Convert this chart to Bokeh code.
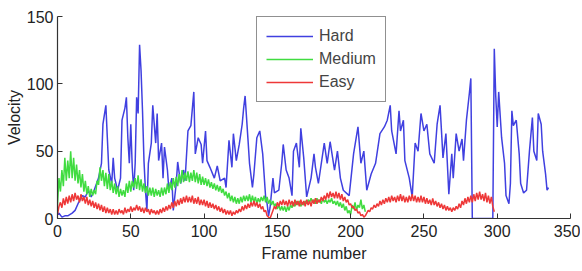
from bokeh.plotting import figure
from bokeh.models import Range1d, FixedTicker, Legend, LegendItem
from bokeh.embed import file_html
from bokeh.resources import INLINE

x_ticks = [0, 50, 100, 150, 200, 250, 300, 350]
y_ticks = [0, 50, 100, 150]

hard_frames = [0, 1, 3, 5, 7, 10, 12, 14, 17, 19,
               21, 23, 25, 28, 30, 31, 33, 34, 35, 37,
               38, 39, 41, 43, 44, 46, 47, 48, 49, 50,
               51, 52, 53, 54, 55, 56, 57, 58, 59, 60,
               61, 62, 64, 65, 67, 68, 69, 71, 72, 73,
               75, 76, 78, 79, 81, 82, 84, 86, 87, 89,
               91, 93, 94, 96, 98, 99, 101, 102, 104, 107,
               109, 111, 114, 115, 117, 119, 120, 122, 124, 126,
               127, 128, 130, 131, 133, 134, 136, 138, 140, 142,
               143, 144, 145, 147, 148, 151, 153, 154, 156, 158,
               160, 161, 163, 165, 166, 168, 170, 173, 175, 176,
               178, 182, 184, 186, 189, 191, 193, 195, 199, 202,
               205, 207, 209, 211, 214, 217, 220, 223, 225, 227,
               228, 231, 233, 234, 236, 237, 240, 242, 244, 246,
               248, 250, 252, 254, 257, 259, 261, 263, 265, 267,
               269, 270, 272, 274, 276, 277, 279, 281, 282, 283,
               290, 297, 298, 299, 300, 301, 303, 305, 306, 308,
               309, 310, 311, 313, 315, 316, 318, 320, 322, 324,
               325, 327, 328, 330, 331, 333, 334, 335]
hard = [3, 4, 1, 2, 2, 4, 6, 11, 17, 16,
        21, 16, 21, 30, 41, 70, 84, 60, 36, 26,
        45, 30, 21, 30, 73, 82, 90, 60, 41, 70,
        38, 21, 41, 90, 78, 129, 110, 80, 43, 21,
        6, 41, 56, 84, 56, 78, 43, 56, 30, 53,
        36, 21, 30, 6, 26, 42, 26, 36, 28, 65,
        69, 94, 48, 60, 55, 41, 65, 43, 38, 30,
        39, 28, 30, 23, 58, 38, 63, 43, 55, 70,
        82, 91, 58, 41, 23, 33, 60, 65, 48, 16,
        11, 2, 8, 30, 19, 21, 41, 55, 36, 30,
        17, 50, 56, 38, 67, 45, 16, 30, 48, 38,
        26, 56, 41, 57, 36, 50, 30, 21, 17, 48,
        68, 41, 50, 21, 33, 41, 63, 68, 73, 84,
        65, 48, 80, 65, 73, 43, 30, 16, 56, 50,
        78, 65, 70, 48, 41, 70, 84, 45, 63, 18,
        48, 30, 63, 50, 59, 43, 73, 93, 104, 0,
        0, 0, 126, 91, 68, 94, 60, 41, 17, 11,
        26, 80, 69, 73, 48, 26, 19, 21, 50, 75,
        50, 43, 78, 70, 50, 33, 21, 23]

medium = [10, 30, 20, 36, 24, 45, 28, 43, 30, 50,
          30, 45, 28, 40, 26, 36, 23, 33, 20, 28,
          18, 24, 16, 22, 17, 21, 18, 28, 25, 38,
          28, 36, 24, 34, 22, 33, 21, 28, 19, 26,
          18, 24, 16, 22, 17, 21, 16, 26, 19, 28,
          20, 28, 23, 30, 22, 32, 21, 29, 20, 26,
          19, 24, 17, 23, 17, 23, 16, 22, 17, 21,
          16, 23, 17, 23, 18, 26, 19, 27, 21, 30,
          23, 31, 24, 33, 26, 36, 27, 34, 28, 35,
          27, 34, 28, 36, 27, 34, 26, 33, 25, 31,
          25, 30, 24, 29, 23, 27, 22, 26, 21, 25,
          20, 24, 19, 22, 17, 20, 15, 19, 13, 17,
          12, 16, 11, 15, 11, 16, 12, 17, 13, 17,
          13, 18, 12, 17, 12, 16, 11, 15, 12, 16,
          13, 17, 12, 16, 11, 14, 10, 13, 9, 11,
          7, 10, 6, 9, 6, 9, 5, 9, 6, 10,
          8, 12, 9, 13, 10, 13, 9, 12, 10, 13,
          11, 14, 12, 15, 12, 14, 11, 15, 12, 14,
          11, 15, 12, 14, 11, 14, 12, 15, 11, 13,
          10, 13, 9, 12, 8, 11, 6, 9, 4, 6,
          3, 10, 7, 12, 6, 10, 8, 14, 7, 10,
          5]
medium_frames = list(range(len(medium)))

easy = [3, 9, 12, 8, 15, 10, 16, 11, 17, 12,
        18, 13, 19, 14, 17, 12, 18, 13, 16, 11,
        16, 10, 14, 9, 13, 8, 12, 7, 11, 6,
        10, 5, 9, 4, 8, 4, 7, 3, 7, 3,
        6, 3, 7, 4, 6, 3, 8, 4, 7, 5,
        9, 5, 8, 6, 10, 6, 9, 5, 8, 4,
        8, 5, 7, 3, 7, 4, 6, 3, 6, 3,
        7, 4, 8, 5, 9, 6, 10, 7, 12, 8,
        13, 9, 14, 10, 15, 11, 16, 12, 17, 12,
        16, 12, 17, 11, 15, 11, 16, 10, 14, 10,
        14, 9, 13, 8, 12, 8, 11, 7, 10, 6,
        9, 5, 8, 4, 7, 3, 6, 3, 6, 2,
        5, 3, 6, 4, 7, 5, 9, 6, 10, 7,
        11, 8, 12, 9, 13, 9, 12, 8, 11, 7,
        9, 5, 6, 2, 1, 0, 3, 6, 9, 7,
        12, 9, 13, 10, 14, 10, 13, 9, 14, 10,
        13, 9, 14, 10, 13, 9, 14, 10, 13, 9,
        14, 10, 13, 9, 14, 11, 15, 11, 14, 12,
        16, 13, 17, 14, 19, 15, 20, 16, 19, 15,
        20, 15, 19, 14, 18, 13, 16, 12, 14, 10,
        11, 8, 9, 6, 7, 4, 5, 2, 3, 1,
        2, 4, 6, 5, 8, 7, 10, 8, 11, 9,
        13, 10, 14, 11, 15, 12, 16, 12, 17, 13,
        16, 12, 17, 13, 18, 13, 17, 12, 16, 12,
        17, 13, 18, 13, 17, 12, 16, 12, 17, 12,
        16, 11, 15, 11, 14, 10, 15, 10, 13, 9,
        12, 8, 11, 7, 10, 6, 9, 6, 8, 5,
        8, 6, 9, 7, 11, 8, 13, 10, 15, 11,
        16, 12, 17, 12, 18, 13, 19, 14, 20, 14,
        18, 13, 19, 12, 17, 11, 16, 9, 5]
easy_frames = list(range(len(easy)))

series_names = ["Hard", "Medium", "Easy"]
colors = ["#4040e0", "#40dc40", "#ee3838"]

FONT = "Liberation Sans"

p = figure(width=580, height=270, output_backend="svg", toolbar_location=None,
           x_range=Range1d(0, 350), y_range=Range1d(0, 150),
           min_border_left=57, min_border_top=16, min_border_right=10,
           min_border_bottom=52)
p.outline_line_color = None
p.grid.visible = False
p.background_fill_color = "white"

r_hard = p.line(hard_frames, hard, line_color=colors[0], line_width=1.5)
r_med = p.line(medium_frames, medium, line_color=colors[1], line_width=1.5)
r_easy = p.line(easy_frames, easy, line_color=colors[2], line_width=1.5)

for ax in (p.xaxis[0], p.yaxis[0]):
    ax.axis_line_color = "#333333"
    ax.axis_line_width = 1.2
    ax.major_tick_line_color = "#333333"
    ax.major_tick_in = 5
    ax.major_tick_out = 0
    ax.minor_tick_line_color = None
    ax.major_label_text_font = FONT
    ax.major_label_text_font_size = "16px"
    ax.major_label_text_color = "#222222"
    ax.axis_label_text_font = FONT
    ax.axis_label_text_font_size = "16px"
    ax.axis_label_text_font_style = "normal"
    ax.axis_label_text_color = "#222222"

p.xaxis.ticker = FixedTicker(ticks=x_ticks)
p.yaxis.ticker = FixedTicker(ticks=y_ticks)
p.xaxis.axis_label = "Frame number"
p.yaxis.axis_label = "Velocity"
p.xaxis.major_label_standoff = 6
p.xaxis.axis_label_standoff = 5
p.yaxis.major_label_standoff = 4
p.yaxis.axis_label_standoff = 1

legend = Legend(items=[LegendItem(label=series_names[0], renderers=[r_hard]),
                       LegendItem(label=series_names[1], renderers=[r_med]),
                       LegendItem(label=series_names[2], renderers=[r_easy])],
                location=(199, 116))
legend.border_line_color = "#222222"
legend.border_line_width = 1
legend.background_fill_alpha = 1
legend.label_text_font = FONT
legend.label_text_font_size = "16px"
legend.glyph_width = 47
legend.glyph_height = 20
legend.label_height = 20
legend.label_standoff = 6
legend.padding = 9
legend.spacing = 3
legend.margin = 0
p.add_layout(legend)

open("out.html", "w").write(file_html(p, INLINE))
